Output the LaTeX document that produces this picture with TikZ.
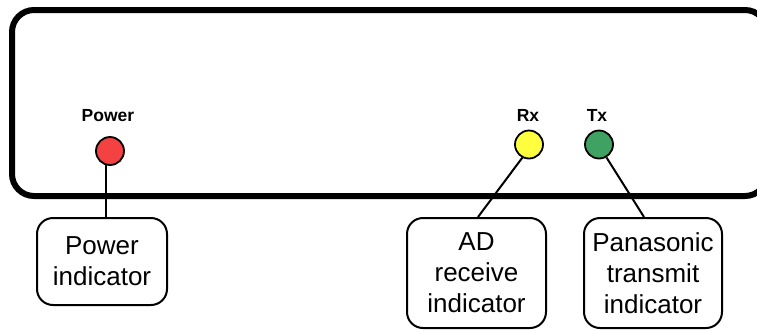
\documentclass[tikz,border=0pt]{standalone}
\usepackage{fontspec}
\setmainfont{Liberation Sans}
\definecolor{ledred}{HTML}{F44242}
\definecolor{ledyellow}{HTML}{FFFF40}
\definecolor{ledgreen}{HTML}{3FA263}
\tikzset{
  panel/.style={line width=6pt, rounded corners=22pt},
  led/.style={circle, draw=black, line width=1.8pt, minimum size=28pt, inner sep=0pt},
  ledlabel/.style={font=\bfseries\fontsize{17.5}{20}\selectfont, anchor=base},
  callout/.style={draw=black, line width=2pt, rounded corners=16pt, align=center,
    inner sep=0pt, font=\fontsize{26}{31}\selectfont},
  wire/.style={line width=2pt}
}
\begin{document}
\begin{tikzpicture}[x=1pt,y=-1pt]
\useasboundingbox (0,0) rectangle (757,330);
\begin{scope}
\clip (0,0) rectangle (757,330);
\draw[panel] (12,10) rectangle (767,196);
\end{scope}
% LEDs
\node[led, fill=ledred] (pw) at (110,151) {};
\node[led, fill=ledyellow] (rx) at (529,144.5) {};
\node[led, fill=ledgreen] (tx) at (599,144.5) {};
% labels
\node[ledlabel] (pwl) at (108,121) {Power};
\node[ledlabel] (rxl) at (528,121) {Rx};
\node[ledlabel] (txl) at (597,121) {Tx};
% callouts
\node[callout, minimum width=130pt, minimum height=87pt] (pbox) at (102,261.5) {Power\\indicator};
\node[callout, minimum width=139pt, minimum height=110pt] (adbox) at (476.5,273) {AD\\receive\\indicator};
\node[callout, minimum width=138pt, minimum height=110pt] (txbox) at (653,273) {Panasonic\\transmit\\indicator};
% connectors
\draw[wire] (pw.255) -- (pw.255 |- pbox.north);
\draw[wire] (rx.243) -- ([xshift=1.5pt]adbox.north);
\draw[wire] (tx.300) -- ([xshift=-9pt]txbox.north);
\end{tikzpicture}
\end{document}
